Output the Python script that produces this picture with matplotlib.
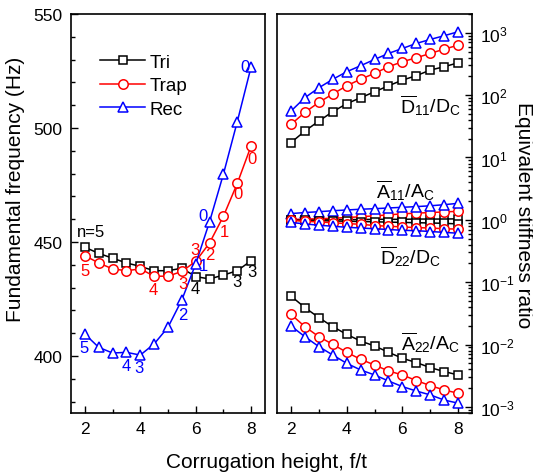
import matplotlib
matplotlib.use('Agg')
import matplotlib.pyplot as plt
from matplotlib.ticker import MultipleLocator, LogLocator, NullFormatter

plt.rcParams['font.family'] = ['Liberation Sans', 'DejaVu Sans']
plt.rcParams['mathtext.fontset'] = 'custom'
plt.rcParams['mathtext.rm'] = 'Liberation Sans'
plt.rcParams['mathtext.it'] = 'Liberation Sans:italic'
plt.rcParams['mathtext.bf'] = 'Liberation Sans:bold'

# ---------------- data ----------------
x = [2, 2.5, 3, 3.5, 4, 4.5, 5, 5.5, 6, 6.5, 7, 7.5, 8]

freq_tri = [447.7, 445.0, 442.9, 440.8, 439.3, 437.4, 437.4, 438.5, 434.8, 433.8, 435.5, 437.4, 441.8]
freq_trap = [444.0, 440.8, 438.2, 437.4, 438.2, 435.0, 435.0, 437.1, 441.5, 449.6, 461.3, 475.7, 492.2]
freq_rec = [409.6, 403.8, 401.3, 401.6, 400.4, 405.3, 412.6, 424.6, 440.4, 458.9, 479.8, 502.8, 526.9]

D11_tri = [17.3, 26.5, 38.3, 54.2, 72.8, 90.8, 113, 141, 174, 205, 252, 285, 330]
D11_trap = [33.9, 52.8, 76.4, 104, 141, 180, 223, 285, 343, 397, 466, 546, 632]
D11_rec = [55.4, 90.8, 131, 179, 237, 296, 373, 466, 560, 674, 781, 896, 1038]

A11_tri = [1.00, 1.00, 1.00, 1.01, 1.01, 1.01, 1.02, 1.02, 1.02, 1.03, 1.03, 1.03, 1.04]
A11_trap = [1.01, 1.03, 1.04, 1.06, 1.09, 1.12, 1.16, 1.20, 1.25, 1.28, 1.31, 1.34, 1.37]
A11_rec = [1.26, 1.31, 1.35, 1.40, 1.44, 1.48, 1.51, 1.55, 1.59, 1.63, 1.68, 1.75, 1.84]

D22_tri = [0.99, 0.98, 0.97, 0.96, 0.95, 0.94, 0.93, 0.92, 0.91, 0.90, 0.89, 0.88, 0.86]
D22_trap = [0.98, 0.95, 0.925, 0.90, 0.87, 0.85, 0.81, 0.79, 0.77, 0.75, 0.74, 0.72, 0.71]
D22_rec = [0.91, 0.86, 0.82, 0.79, 0.76, 0.74, 0.72, 0.70, 0.68, 0.67, 0.65, 0.63, 0.61]

A22_tri = [0.0601, 0.0392, 0.0271, 0.0194, 0.0146, 0.0114, 0.00951, 0.00753, 0.00603, 0.00515, 0.00428, 0.00369, 0.00326]
A22_trap = [0.0306, 0.0194, 0.0134, 0.0101, 0.00753, 0.00581, 0.00471, 0.00378, 0.00326, 0.00265, 0.00220, 0.00187, 0.00166]
A22_rec = [0.0199, 0.0134, 0.00929, 0.00681, 0.00501, 0.00392, 0.00326, 0.00261, 0.00212, 0.00180, 0.00156, 0.00129, 0.00115]

series_names = ['Tri', 'Trap', 'Rec']
colors = ['black', 'red', 'blue']
markers = ['s', 'o', '^']
msizes = [6.0, 6.8, 6.8]

# mode-number annotations (text, x, f, colour index)
mode_labels = [
    ('n=5', 2.23, 454.5, 0),
    ('5', 2.0, 437.4, 1), ('4', 4.47, 429.1, 1), ('3', 5.53, 431.6, 1),
    ('3', 5.97, 446.9, 1), ('2', 6.51, 444.3, 1), ('1', 7.05, 454.5, 1),
    ('0', 7.53, 471.1, 1), ('0', 8.02, 486.7, 1),
    ('4', 5.97, 429.7, 0), ('3', 7.48, 432.6, 0), ('3', 8.02, 437.0, 0),
    ('5', 1.96, 403.8, 2), ('4', 3.48, 395.7, 2), ('3', 3.96, 395.0, 2),
    ('2', 5.55, 418.4, 2), ('1', 6.27, 439.6, 2), ('0', 6.25, 461.8, 2),
    ('0', 7.78, 526.9, 2),
]

ratio_labels = [
    (r'$\overline{\mathrm{D}}_{11}/\mathrm{D}_{\mathrm{C}}$', 7.0, 71.0),
    (r'$\overline{\mathrm{A}}_{11}/\mathrm{A}_{\mathrm{C}}$', 6.1, 3.1),
    (r'$\overline{\mathrm{D}}_{22}/\mathrm{D}_{\mathrm{C}}$', 6.3, 0.27),
    (r'$\overline{\mathrm{A}}_{22}/\mathrm{A}_{\mathrm{C}}$', 7.0, 0.0113),
]

# ---------------- figure ----------------
fig = plt.figure(figsize=(5.33, 4.77), dpi=100)
ax1 = fig.add_axes([0.1332, 0.1321, 0.364, 0.8365])
ax2 = fig.add_axes([0.5197, 0.1321, 0.3659, 0.8365])

line_kw = dict(lw=1.1, mfc='white', mew=1.1)

freqs = [freq_tri, freq_trap, freq_rec]
for i in range(3):
    ax1.plot(x, freqs[i], color=colors[i], marker=markers[i], ms=msizes[i],
             label=series_names[i], **line_kw)

for txt, xx, yy, ci in mode_labels:
    ax1.text(xx, yy, txt, color=colors[ci], fontsize=12, ha='center', va='center')

ax1.set_xlim(1.5, 8.5)
ax1.set_ylim(375, 550)
ax1.xaxis.set_major_locator(MultipleLocator(2))
ax1.xaxis.set_minor_locator(MultipleLocator(1))
ax1.yaxis.set_major_locator(MultipleLocator(50))
ax1.yaxis.set_minor_locator(MultipleLocator(10))
ax1.tick_params(which='both', direction='in', top=False, right=False, width=1.0,
                labelsize=12.5)
ax1.tick_params(which='major', length=5)
ax1.tick_params(which='minor', length=3)
ax1.tick_params(axis='y', pad=6)
ax1.tick_params(axis='x', pad=6)

leg = ax1.legend(loc='upper left', bbox_to_anchor=(0.15, 0.9), frameon=False,
                 fontsize=13.5, handlelength=2.4, handletextpad=0.25,
                 labelspacing=0.33, borderpad=0, borderaxespad=0)

groups = [
    [D11_tri, D11_trap, D11_rec],
    [A11_tri, A11_trap, A11_rec],
    [D22_tri, D22_trap, D22_rec],
    [A22_tri, A22_trap, A22_rec],
]
for g in groups:
    for i in range(3):
        ax2.plot(x, g[i], color=colors[i], marker=markers[i], ms=msizes[i], **line_kw)

for txt, xx, yy in ratio_labels:
    ax2.text(xx, yy, txt, fontsize=14, ha='center', va='center')

ax2.set_yscale('log')
ax2.set_xlim(1.5, 8.5)
ax2.set_ylim(8e-4, 2e3)
ax2.xaxis.set_major_locator(MultipleLocator(2))
ax2.xaxis.set_minor_locator(MultipleLocator(1))
ax2.yaxis.set_major_locator(LogLocator(base=10, numticks=20))
ax2.yaxis.set_minor_locator(LogLocator(base=10, subs=range(2, 10), numticks=100))
ax2.yaxis.set_minor_formatter(NullFormatter())
ax2.yaxis.tick_right()
ax2.yaxis.set_label_position('right')
ax2.tick_params(which='both', direction='in', top=False, left=False, right=True,
                width=1.0, labelsize=12.5)
ax2.tick_params(which='major', length=5)
ax2.tick_params(which='minor', length=3)
ax2.tick_params(axis='y', pad=6)
ax2.tick_params(axis='x', pad=6)

for ax in (ax1, ax2):
    for s in ax.spines.values():
        s.set_linewidth(1.2)

fig.text(16 / 533, 1 - 189 / 477, 'Fundamental frequency (Hz)', rotation=90,
         ha='center', va='center', fontsize=15)
fig.text(524 / 533, 1 - 215 / 477, 'Equivalent stiffness ratio', rotation=270,
         ha='center', va='center', fontsize=15)
fig.text(266 / 533, 1 - 463 / 477, 'Corrugation height, f/t',
         ha='center', va='center', fontsize=15)

fig.savefig('out.png', dpi=100)
